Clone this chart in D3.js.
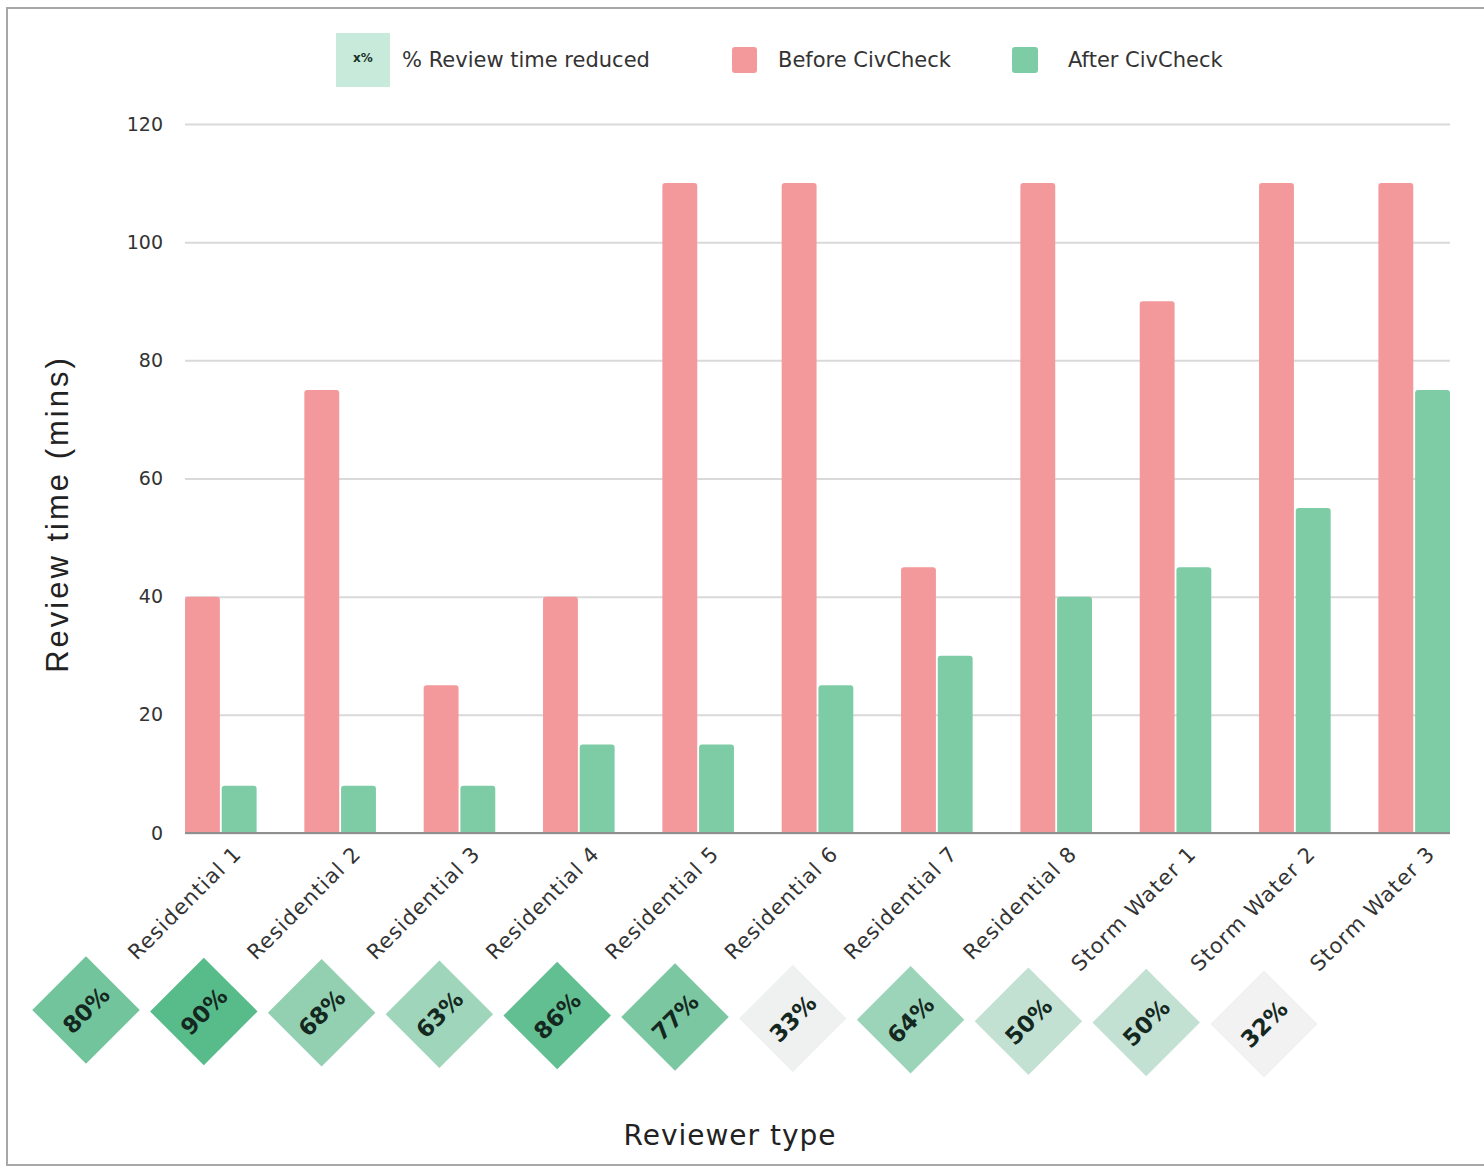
<!DOCTYPE html>
<html>
<head>
<meta charset="utf-8">
<script src="https://cdn.jsdelivr.net/npm/d3@7"></script>
<style>
  body { margin: 0; background: #fff; }
  svg { display: block; }
  text { font-family: "DejaVu Sans", sans-serif; }
</style>
</head>
<body>
<script>
'use strict';

var reviewers = ['Residential 1','Residential 2','Residential 3','Residential 4','Residential 5',
  'Residential 6','Residential 7','Residential 8','Storm Water 1','Storm Water 2','Storm Water 3'];
var before = [40, 75, 25, 40, 110, 110, 45, 110, 90, 110, 110];
var after = [8, 8, 8, 15, 15, 25, 30, 40, 45, 55, 75];
var reduced = [80, 90, 68, 63, 86, 77, 33, 64, 50, 50, 32];
var yTicks = [0, 20, 40, 60, 80, 100, 120];

var pink = '#f4999b',
  green = '#7dcca5';

var width = 1484,
  height = 1169,
  plotLeft = 185,
  plotRight = 1450,
  plotTop = 124,
  plotBottom = 833;

var svg = d3.select('body').append('svg')
  .attr('width', width)
  .attr('height', height);

// frame
svg.append('rect')
  .attr('x', 7).attr('y', 8)
  .attr('width', 1500).attr('height', 1157)
  .attr('fill', 'none')
  .attr('stroke', '#a8a8a8')
  .attr('stroke-width', 2);

var x = d3.scaleBand().domain(reviewers).range([plotLeft, plotRight]).paddingInner(0.4).paddingOuter(0);
var sub = d3.scaleBand().domain(['before', 'after']).range([0, x.bandwidth()]).paddingInner(0.05);
var y = d3.scaleLinear().domain([0, 120]).range([plotBottom, plotTop]);

// grid + y labels
var yAxis = svg.append('g')
  .attr('transform', 'translate(' + plotLeft + ',0)')
  .call(d3.axisLeft(y).tickValues(yTicks).tickSize(-(plotRight - plotLeft)).tickPadding(22));
yAxis.select('.domain').remove();
yAxis.selectAll('.tick line').attr('stroke', '#d9d9d9').attr('stroke-width', 2);
yAxis.selectAll('.tick text')
  .attr('fill', '#333')
  .style('font-size', '19px')
  .style('font-family', '"DejaVu Sans", sans-serif');

// bars with slightly rounded tops
function barPath(x0, w, yTop, yBase) {
  var r = Math.min(3, yBase - yTop);
  return 'M' + x0 + ',' + yBase +
    'V' + (yTop + r) +
    'Q' + x0 + ',' + yTop + ' ' + (x0 + r) + ',' + yTop +
    'H' + (x0 + w - r) +
    'Q' + (x0 + w) + ',' + yTop + ' ' + (x0 + w) + ',' + (yTop + r) +
    'V' + yBase + 'Z';
}

var groups = svg.append('g').selectAll('g')
  .data(reviewers)
  .join('g')
  .attr('transform', function (d) { return 'translate(' + x(d) + ',0)'; });

groups.append('path')
  .attr('fill', pink)
  .attr('d', function (d, i) { return barPath(sub('before'), sub.bandwidth(), y(before[i]), y(0)); });

groups.append('path')
  .attr('fill', green)
  .attr('d', function (d, i) { return barPath(sub('after'), sub.bandwidth(), y(after[i]), y(0)); });

// baseline
svg.append('line')
  .attr('x1', plotLeft).attr('x2', plotRight)
  .attr('y1', y(0)).attr('y2', y(0))
  .attr('stroke', '#8f8f8f')
  .attr('stroke-width', 2);

// category labels
svg.append('g').selectAll('text')
  .data(reviewers)
  .join('text')
  .attr('transform', function (d) {
    return 'translate(' + (x(d) + x.bandwidth() / 2 + 22) + ',' + (plotBottom + 22) + ') rotate(-45)';
  })
  .attr('text-anchor', 'end')
  .attr('fill', '#333')
  .style('font-size', '21px')
  .style('letter-spacing', '1.1px')
  .text(function (d) { return d; });

// % reduced diamonds
var dx = d3.scalePoint().domain(reviewers).range([86, 1264]);
var dy = d3.scaleLinear().domain([0, reviewers.length - 1]).range([1010, 1024]);
var shade = d3.scaleLinear().domain([32, 90]).range(['#f2f2f2', '#57bb8a']);

var diamonds = svg.append('g').selectAll('g')
  .data(reviewers)
  .join('g')
  .attr('transform', function (d, i) { return 'translate(' + dx(d) + ',' + dy(i) + ') rotate(-45)'; });

diamonds.append('rect')
  .attr('x', -38).attr('y', -38)
  .attr('width', 76).attr('height', 76)
  .attr('fill', function (d, i) { return shade(reduced[i]); });

diamonds.append('text')
  .attr('text-anchor', 'middle')
  .attr('dy', '0.36em')
  .attr('fill', '#14281f')
  .style('font-size', '23px')
  .style('font-weight', 'bold')
  .text(function (d, i) { return reduced[i] + '%'; });

// legend
var legend = svg.append('g');
legend.append('rect')
  .attr('x', 336).attr('y', 33).attr('width', 54).attr('height', 54)
  .attr('fill', '#c8eada');
legend.append('text')
  .attr('x', 363).attr('y', 62)
  .attr('text-anchor', 'middle')
  .attr('fill', '#183328')
  .style('font-size', '12px')
  .style('font-weight', 'bold')
  .text('x%');
legend.append('text')
  .attr('x', 402).attr('y', 67)
  .attr('fill', '#333')
  .style('font-size', '21px')
  .text('% Review time reduced');

legend.append('rect')
  .attr('x', 732).attr('y', 47).attr('width', 25).attr('height', 26).attr('rx', 3)
  .attr('fill', pink);
legend.append('text')
  .attr('x', 778).attr('y', 67)
  .attr('fill', '#333')
  .style('font-size', '21px')
  .text('Before CivCheck');

legend.append('rect')
  .attr('x', 1012).attr('y', 47).attr('width', 26).attr('height', 26).attr('rx', 3)
  .attr('fill', green);
legend.append('text')
  .attr('x', 1068).attr('y', 67)
  .attr('fill', '#333')
  .style('font-size', '21px')
  .text('After CivCheck');

// axis titles
svg.append('text')
  .attr('transform', 'translate(68,514) rotate(-90)')
  .attr('text-anchor', 'middle')
  .attr('fill', '#222')
  .style('font-family', '"Liberation Sans", Arial, sans-serif')
  .style('font-size', '31px')
  .style('letter-spacing', '3px')
  .text('Review time (mins)');

svg.append('text')
  .attr('x', 730).attr('y', 1145)
  .attr('text-anchor', 'middle')
  .attr('fill', '#222')
  .style('font-size', '28px')
  .style('letter-spacing', '1px')
  .text('Reviewer type');
</script>
</body>
</html>
